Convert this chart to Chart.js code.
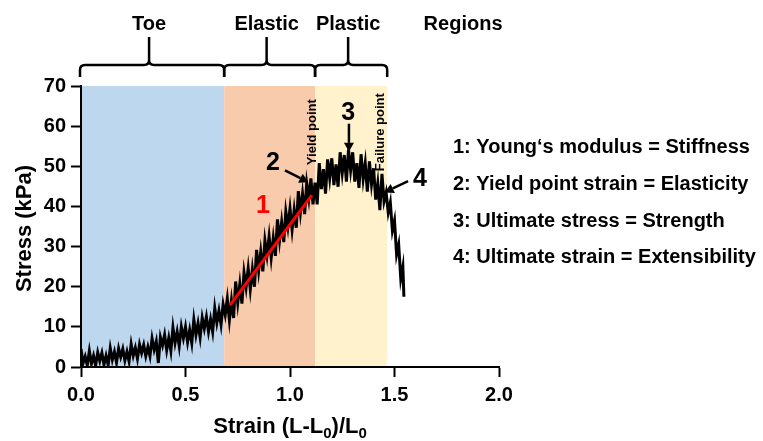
<!DOCTYPE html>
<html>
<head>
<meta charset="utf-8">
<script src="https://cdn.jsdelivr.net/npm/chart.js@4"></script>
<style>
html,body{margin:0;padding:0;background:#fff;}
canvas{display:block;}
</style>
</head>
<body>
<canvas id="c" width="763" height="441"></canvas>
<script>
// ---------- DATA ----------
const strain = [
0.00,0.01,0.02,0.03,0.04,0.05,0.06,0.07,0.08,0.09,
0.10,0.11,0.12,0.13,0.14,0.15,0.16,0.17,0.18,0.19,
0.20,0.21,0.22,0.23,0.24,0.25,0.26,0.27,0.28,0.29,
0.30,0.31,0.32,0.33,0.34,0.35,0.36,0.37,0.38,0.39,
0.40,0.41,0.42,0.43,0.44,0.45,0.46,0.47,0.48,0.49,
0.50,0.51,0.52,0.53,0.54,0.55,0.56,0.57,0.58,0.59,
0.60,0.61,0.62,0.63,0.64,0.65,0.66,0.67,0.68,0.69,
0.70,0.71,0.72,0.73,0.74,0.75,0.76,0.77,0.78,0.79,
0.80,0.81,0.82,0.83,0.84,0.85,0.86,0.87,0.88,0.89,
0.90,0.91,0.92,0.93,0.94,0.95,0.96,0.97,0.98,0.99,
1.00,1.01,1.02,1.03,1.04,1.05,1.06,1.07,1.08,1.09,
1.10,1.11,1.12,1.13,1.14,1.15,1.16,1.17,1.18,1.19,
1.20,1.21,1.22,1.23,1.24,1.25,1.26,1.27,1.28,1.29,
1.30,1.31,1.32,1.33,1.34,1.35,1.36,1.37,1.38,1.39,
1.40,1.41,1.42,1.43,1.44,1.45,1.46,1.47,1.48,1.49,
1.50,1.51,1.52,1.53,1.54,1.545
];
const stress = [
4.5,1.0,2.6,0.4,4.0,0.8,2.8,0.4,3.6,1.5,
3.5,0.6,2.8,0.5,4.7,1.8,3.8,1.1,4.6,2.5,
4.5,1.6,3.8,1.4,5.7,2.8,4.8,2.1,5.6,3.5,
5.5,2.7,5.0,2.7,7.1,4.3,6.4,1.0,7.4,5.4,
8.0,4.2,7.2,4.0,9.8,6.0,8.8,5.2,10.0,7.2,
10.0,6.2,9.2,6.0,11.8,8.0,10.9,7.4,12.3,9.6,
12.5,8.8,11.9,8.8,14.7,11.0,14.0,10.6,15.6,13.0,
17.0,11.7,16.6,12.2,21.3,16.0,20.7,15.8,23.5,19.8,
24.5,19.3,24.3,20.0,29.2,24.0,28.7,23.8,31.5,27.8,
32.5,27.2,32.1,27.7,36.8,31.5,36.1,31.1,38.7,34.9,
39.5,34.2,39.1,34.7,43.8,38.5,43.1,38.1,45.7,41.9,
47.0,40.5,45.9,40.5,50.8,44.3,49.3,43.2,51.7,47.0,
52.0,45.3,50.5,44.9,53.5,48.3,52.8,46.2,54.2,49.0,
53.5,46.2,50.8,44.6,53.0,46.8,50.8,43.7,51.2,45.5,
49.5,41.7,45.8,39.1,48.1,41.3,43.5,38.5,41.0,34.0,
36.5,28.0,30.5,22.0,25.0,17.5
];
// Young's modulus fit line (start, end)
const fitStrain = [0.713, 1.105];
const fitStress = [15.4, 42.8];
// region boundaries (strain) and names
const regionEdges = [0, 0.685, 1.12, 1.465];
const regionNames = ['Toe', 'Elastic', 'Plastic'];
const regionColors = ['#BDD7EE', '#F8CBAD', '#FFF2CC'];
const regionsTitle = 'Regions';
const xTicks = [0, 0.5, 1.0, 1.5, 2.0];
const yTicks = [0, 10, 20, 30, 40, 50, 60, 70];
const legendLines = [
  '1: Young\u2018s modulus = Stiffness',
  '2: Yield point strain = Elasticity',
  '3: Ultimate stress = Strength',
  '4: Ultimate strain = Extensibility'
];
// ---------- CHART ----------
const FONT = "'Liberation Sans', Arial, sans-serif";

const bgPlugin = {
  id: 'bg',
  beforeDraw(chart) {
    const {ctx, chartArea: a, scales: {x}} = chart;
    ctx.save();
    for (let i = 0; i < regionNames.length; i++) {
      const x0 = x.getPixelForValue(regionEdges[i]);
      const x1 = x.getPixelForValue(regionEdges[i + 1]);
      ctx.fillStyle = regionColors[i];
      ctx.fillRect(x0, a.top, x1 - x0, a.bottom - a.top);
    }
    ctx.restore();
  }
};

function arrow(ctx, x0, y0, x1, y1) {
  const ang = Math.atan2(y1 - y0, x1 - x0);
  const hl = 9, hw = 5;
  const bx = x1 - hl * Math.cos(ang), by = y1 - hl * Math.sin(ang);
  ctx.beginPath();
  ctx.moveTo(x0, y0); ctx.lineTo(bx, by);
  ctx.lineWidth = 2.5; ctx.strokeStyle = '#000'; ctx.stroke();
  ctx.beginPath();
  ctx.moveTo(x1, y1);
  ctx.lineTo(bx + hw * Math.sin(ang), by - hw * Math.cos(ang));
  ctx.lineTo(bx - hw * Math.sin(ang), by + hw * Math.cos(ang));
  ctx.closePath(); ctx.fillStyle = '#000'; ctx.fill();
}

const annoPlugin = {
  id: 'anno',
  afterDraw(chart) {
    const {ctx, chartArea: a, scales: {x, y}} = chart;
    const px = v => x.getPixelForValue(v), py = v => y.getPixelForValue(v);
    ctx.save();
    // brackets
    const yb = a.top - 9, yh = a.top - 21, yn = a.top - 49, r = 5;
    ctx.strokeStyle = '#000'; ctx.lineWidth = 2.5; ctx.lineCap = 'butt';
    ctx.fillStyle = '#000';
    ctx.font = 'bold 20px ' + FONT; ctx.textAlign = 'center'; ctx.textBaseline = 'alphabetic';
    for (let i = 0; i < regionNames.length; i++) {
      const xl = px(regionEdges[i]) - (i === 0 ? 1 : 0), xr = px(regionEdges[i + 1]);
      const xm = (xl + xr) / 2 - 3;
      ctx.beginPath();
      ctx.moveTo(xl, yb); ctx.lineTo(xl, yh + r); ctx.quadraticCurveTo(xl, yh, xl + r, yh);
      ctx.lineTo(xm - r, yh); ctx.quadraticCurveTo(xm, yh, xm, yh - r); ctx.lineTo(xm, yn);
      ctx.moveTo(xm, yh - r); ctx.quadraticCurveTo(xm, yh, xm + r, yh);
      ctx.lineTo(xr - r, yh); ctx.quadraticCurveTo(xr, yh, xr, yh + r); ctx.lineTo(xr, yb);
      ctx.stroke();
      ctx.fillText(regionNames[i], xm, 30);
    }
    ctx.fillText(regionsTitle, px(1.828), 30);

    // numbers
    ctx.textBaseline = 'middle';
    ctx.font = 'bold 25px ' + FONT;
    ctx.fillStyle = '#FF0000';
    ctx.fillText('1', px(0.871), py(40.1));
    ctx.fillStyle = '#000';
    ctx.fillText('2', px(0.919), py(50.8));
    ctx.fillText('3', px(1.278), py(63.3));
    ctx.fillText('4', px(1.622), py(46.8));
    arrow(ctx, px(0.976), py(49.0), px(1.088), py(46.0));
    arrow(ctx, px(1.282), py(60.6), px(1.282), py(53.6));
    arrow(ctx, px(1.565), py(46.3), px(1.453), py(43.5));

    // rotated labels
    ctx.font = 'bold 13px ' + FONT;
    [['Yield point', 1.105], ['Failure point', 1.435]].forEach(([t, xv]) => {
      ctx.save();
      ctx.translate(px(xv), py(58.5));
      ctx.rotate(-Math.PI / 2);
      ctx.textAlign = 'center'; ctx.textBaseline = 'middle';
      ctx.fillText(t, 0, 0);
      ctx.restore();
    });

    // legend text
    ctx.font = 'bold 20px ' + FONT;
    ctx.textAlign = 'left'; ctx.textBaseline = 'alphabetic';
    const base = [153, 190, 227, 263];
    legendLines.forEach((t, i) => ctx.fillText(t, 453, base[i]));

    // axis titles
    ctx.font = 'bold 22px ' + FONT;
    ctx.save();
    ctx.translate(25, (a.top + a.bottom) / 2 + 2);
    ctx.rotate(-Math.PI / 2);
    ctx.textAlign = 'center'; ctx.textBaseline = 'middle';
    ctx.fillText('Stress (kPa)', 0, 0);
    ctx.restore();

    // x title with subscripts
    const parts = [['Strain (L-L', 22, 0], ['0', 15, 5], [')/L', 22, 0], ['0', 15, 5]];
    let w = 0;
    parts.forEach(p => { ctx.font = 'bold ' + p[1] + 'px ' + FONT; w += ctx.measureText(p[0]).width; });
    let cx = (a.left + a.right) / 2 - w / 2;
    ctx.textAlign = 'left';
    parts.forEach(p => {
      ctx.font = 'bold ' + p[1] + 'px ' + FONT;
      ctx.fillText(p[0], cx, 433 + p[2]);
      cx += ctx.measureText(p[0]).width;
    });
    ctx.restore();
  }
};

const axisCommon = {
  border: {display: true, color: '#000', width: 2},
  grid: {display: true, drawOnChartArea: false, drawTicks: true, tickLength: 10, tickColor: '#000', tickWidth: 2},
};

new Chart(document.getElementById('c'), {
  type: 'line',
  data: {
    datasets: [
      {
        data: strain.map((s, i) => ({x: s, y: stress[i]})),
        borderColor: '#000', borderWidth: 3, borderJoinStyle: 'miter',
        pointRadius: 0, tension: 0, fill: false, order: 2
      },
      {
        data: fitStrain.map((s, i) => ({x: s, y: fitStress[i]})),
        borderColor: '#FF0000', borderWidth: 3, pointRadius: 0, tension: 0, fill: false, order: 1
      }
    ]
  },
  options: {
    responsive: false, animation: false, events: [],
    layout: {padding: {left: 0, top: 86, right: 264, bottom: 0}},
    plugins: {legend: {display: false}, tooltip: {enabled: false}},
    scales: {
      x: Object.assign({}, axisCommon, {
        type: 'linear', min: 0, max: 2,
        afterFit(s) { s.height = 74; },
        afterBuildTicks(s) { s.ticks = xTicks.map(v => ({value: v})); },
        ticks: {color: '#000', padding: 6, font: {family: FONT, size: 20, weight: 'bold'},
                callback: v => Number(v).toFixed(1), maxRotation: 0, autoSkip: false}
      }),
      y: Object.assign({}, axisCommon, {
        type: 'linear', min: 0, max: 70,
        afterFit(s) { s.width = 81; },
        afterBuildTicks(s) { s.ticks = yTicks.map(v => ({value: v})); },
        ticks: {color: '#000', padding: 5, font: {family: FONT, size: 20, weight: 'bold'}, autoSkip: false}
      })
    }
  },
  plugins: [bgPlugin, annoPlugin]
});
</script>
</body>
</html>
